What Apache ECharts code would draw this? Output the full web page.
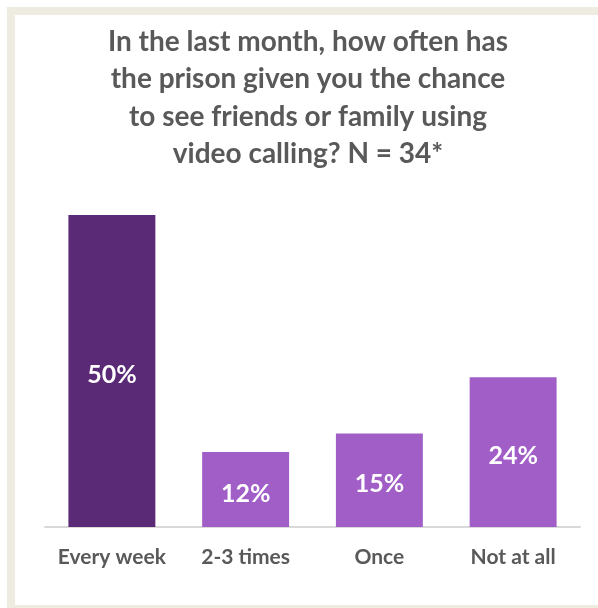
<!DOCTYPE html>
<html>
<head>
<meta charset="utf-8">
<script src="https://cdn.jsdelivr.net/npm/echarts@6/dist/echarts.min.js"></script>
<style>
  html, body { margin: 0; padding: 0; background: #ffffff; }
  #chart { width: 598px; height: 608px; }
</style>
</head>
<body>
<div id="chart"></div>
<script>
// Survey answers: how often video calls were offered
const categories = ['Every week', '2-3 times', 'Once', 'Not at all'];
const percentages = [50, 12, 15, 24];
const barColors = ['#5B2A77', '#A05EC6', '#A05EC6', '#A05EC6'];
const titleLines = [
  'In the last month, how often has',
  'the prison given you the chance',
  'to see friends or family using',
  'video calling? N = 34*'
];

const chart = echarts.init(document.getElementById('chart'));
const font = 'Lato, "Open Sans", sans-serif';

chart.setOption({
  backgroundColor: '#ffffff',
  animation: false,
  title: {
    text: titleLines.join('\n'),
    left: 303,
    top: 18,
    textAlign: 'center',
    textStyle: {
      fontFamily: font,
      fontWeight: 'bold',
      fontSize: 28,
      lineHeight: 37.5,
      color: '#595959'
    }
  },
  graphic: [{
    type: 'rect',
    shape: { x: 11, y: 11, width: 600, height: 598 },
    style: { fill: 'none', stroke: '#EEEBE0', lineWidth: 8 },
    silent: true
  }],
  grid: { left: 45, right: 18, top: 215, bottom: 81 },
  xAxis: {
    type: 'category',
    data: categories,
    axisLine: { lineStyle: { color: '#D9D9D9', width: 2 } },
    axisTick: { show: false },
    axisLabel: {
      interval: 0,
      margin: 20,
      fontFamily: font,
      fontWeight: 'bold',
      fontSize: 21,
      color: '#595959'
    }
  },
  yAxis: {
    type: 'value',
    min: 0,
    max: 50,
    show: false,
    splitLine: { show: false }
  },
  series: [{
    type: 'bar',
    barCategoryGap: '35%',
    data: percentages.map((v, i) => ({ value: v, itemStyle: { color: barColors[i] } })),
    label: {
      show: true,
      position: 'inside',
      offset: [0, 4],
      formatter: '{c}%',
      fontFamily: font,
      fontWeight: 'bold',
      fontSize: 25,
      color: '#ffffff'
    }
  }]
});
</script>
</body>
</html>
